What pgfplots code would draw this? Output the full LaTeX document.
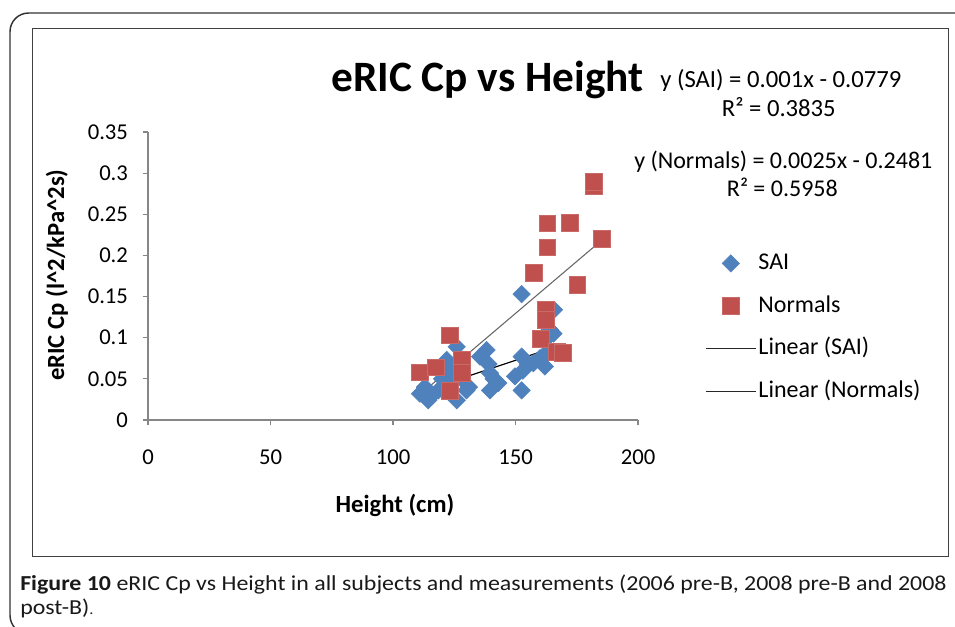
\documentclass[border=0pt]{standalone}
\usepackage{fontspec}
\setmainfont{Carlito}
\usepackage{pgfplots}
\pgfplotsset{compat=1.18}
\definecolor{sai}{HTML}{4F81BD}
\definecolor{norm}{HTML}{C0504D}
\definecolor{axisgray}{HTML}{868686}

\pgfplotsset{
    markleg/.style={legend image code/.code={%
        \draw[mark repeat=2,mark phase=2,##1] plot coordinates {(0pt,0pt)(18.75pt,0pt)(37.5pt,0pt)};}},
    lineleg/.style={legend image code/.code={%
        \draw[##1, draw=black!85] (0pt,0pt) -- (37.5pt,0pt);}},
}

\begin{document}
\begin{tikzpicture}[x=0.75pt,y=0.75pt]
\useasboundingbox (0,0) rectangle (955,626);
\clip (0,0) rectangle (955,626);
% outer page frame
\draw[line width=1.1pt, black!80, rounded corners=14] (975,613) -- (10,613) -- (10,-8) -- (975,-8);
% chart frame
\draw[line width=0.6pt, black!75] (32,598) rectangle (948,70);

% caption
\node[anchor=base west, inner sep=0pt, text=black!90, font=\fontsize{16}{18}\selectfont]
  at (20,36) {\scalebox{1.12}[1]{\textbf{Figure 10} eRIC Cp vs Height in all subjects and measurements (2006 pre-B, 2008 pre-B and 2008}};
\node[anchor=base west, inner sep=0pt, text=black!90, font=\fontsize{16}{18}\selectfont]
  at (20,12) {\scalebox{1.12}[1]{post-B){\fontsize{11}{12}\selectfont.}}};

% title and trend equations
\node[anchor=base, inner sep=0pt, font=\bfseries\fontsize{32.5}{38}\selectfont] at (487.5,534) {eRIC Cp vs Height};
\node[anchor=base west, inner sep=0pt, font=\fontsize{18.5}{22}\selectfont] at (660,538) {y (SAI) = 0.001x - 0.0779};
\node[anchor=base east, inner sep=0pt, font=\fontsize{18.5}{22}\selectfont] at (836,509) {R² = 0.3835};
\node[anchor=base west, inner sep=0pt, font=\fontsize{18}{22}\selectfont] at (634,458) {y (Normals) = 0.0025x - 0.2481};
\node[anchor=base east, inner sep=0pt, font=\fontsize{18}{22}\selectfont] at (838,430) {R² = 0.5958};

\begin{axis}[
    at={(111pt,154.5pt)}, anchor=south west,
    scale only axis,
    width=367.5pt, height=216pt,
    xmin=0, xmax=200,
    ymin=0, ymax=0.35,
    xtick={0,50,100,150,200},
    ytick={0,0.05,0.1,0.15,0.2,0.25,0.3,0.35},
    axis x line*=bottom,
    axis y line*=left,
    axis line style={draw=axisgray, line width=0.9pt},
    tick style={draw=axisgray, line width=0.9pt},
    tick align=outside,
    major tick length=4pt,
    tick label style={font=\fontsize{17}{20}\selectfont},
    /pgf/number format/assume math mode=true,
    yticklabel style={/pgf/number format/fixed, /pgf/number format/precision=2, xshift=-7.5pt},
    xticklabel style={yshift=-15pt},
    xlabel={\textbf{Height (cm)}},
    ylabel={\textbf{eRIC Cp (l\^{}2/kPa\^{}2s)}},
    label style={font=\fontsize{18.5}{22}\selectfont},
    xlabel style={at={(rel axis cs:0.504,-0.295)}, anchor=center},
    ylabel style={at={(rel axis cs:-0.186,0.503)}, anchor=center},
    clip=false,
    legend style={
        at={(rel axis cs:1.1367,0.584)}, anchor=north west,
        draw=none, fill=none, inner sep=0pt,
        font=\fontsize{18}{21}\selectfont,
        row sep=15pt,
        nodes={inner ysep=0pt, inner xsep=1.5pt, text height=13pt, text depth=4pt},
    },
    legend cell align=left,
]

% SAI
\addplot[only marks, mark=square*, mark size=4.6pt, mark options={rotate=45, draw=sai, fill=sai}, markleg]
coordinates {
(111,0.032) (113,0.040) (114.4,0.024) (116,0.030) (118.5,0.036) (120,0.050)
(121.9,0.073) (123,0.062) (124,0.045) (126,0.089) (126,0.024) (127,0.057)
(128,0.050) (130,0.036) (131,0.040) (135.5,0.077) (138.2,0.085) (139,0.068)
(139.6,0.057) (139.6,0.036) (141,0.050) (143,0.045) (149.8,0.053) (152.5,0.153)
(152.5,0.077) (152.5,0.036) (153,0.060) (155,0.068) (157.3,0.069) (160,0.075)
(162,0.065) (162.4,0.081) (163,0.100) (165.5,0.105) (165.7,0.134) (164,0.110)
};
\addlegendentry{SAI}

% Normals
\addplot[only marks, mark=square*, mark size=6.3pt, mark options={draw=norm!85!white, fill=norm}, markleg]
coordinates {
(111,0.058) (117.5,0.064) (123.3,0.103) (123.3,0.036) (128,0.073) (128,0.057)
(157.4,0.179) (163,0.210) (163,0.239) (172,0.240) (181.8,0.284) (181.8,0.290)
(185.2,0.220) (175.2,0.164) (162.2,0.134) (162.2,0.122) (160.3,0.099)
(166.8,0.083) (169.3,0.082)
};
\addlegendentry{Normals}

% Linear (SAI)
\addplot[black, line width=0.9pt, lineleg]
coordinates {(111,0.0337) (165.5,0.0880)};
\addlegendentry{Linear (SAI)}

% Linear (Normals)
\addplot[black!60, line width=0.8pt, lineleg]
coordinates {(111,0.031) (185.2,0.2185)};
\addlegendentry{Linear (Normals)}

\end{axis}
\end{tikzpicture}
\end{document}
